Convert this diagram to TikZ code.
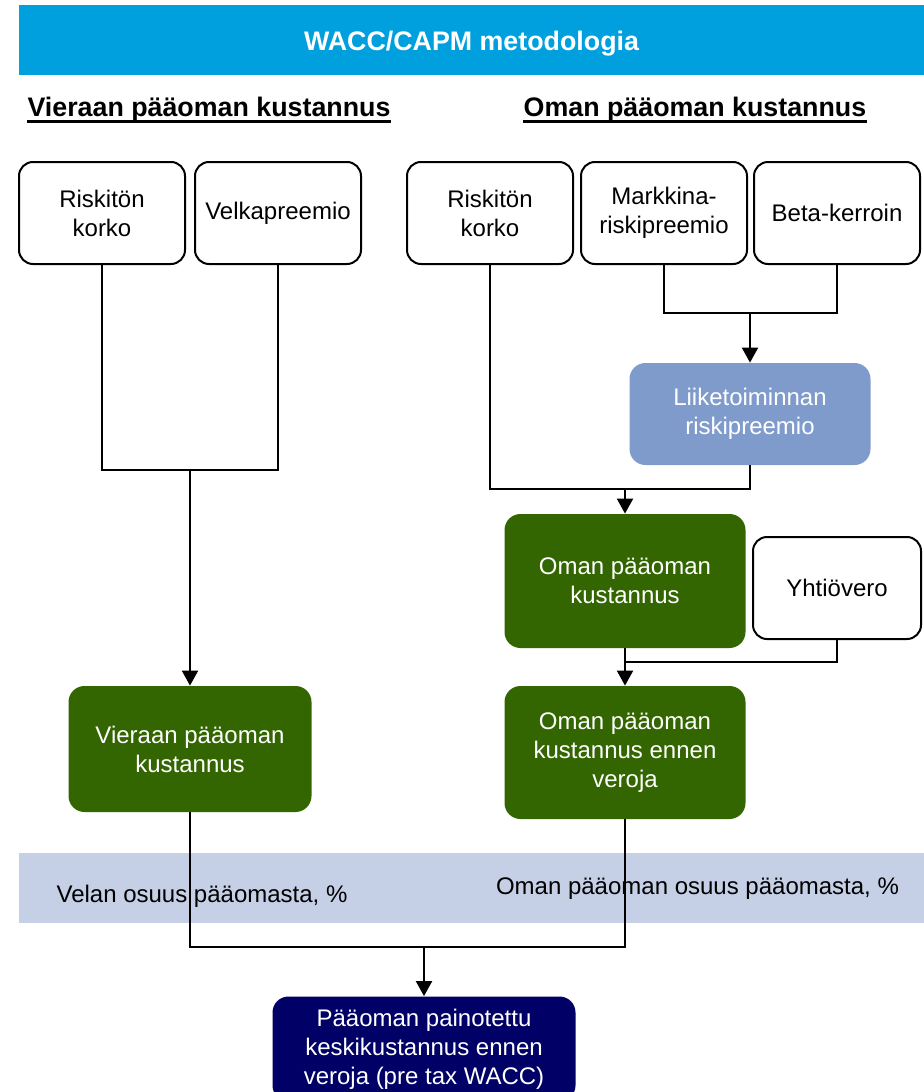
\documentclass[tikz,border=0pt]{standalone}
\usepackage{fontspec}
\setmainfont{Liberation Sans}
\usetikzlibrary{arrows.meta}
\definecolor{wacctop}{RGB}{0,160,223}
\definecolor{capmgreen}{RGB}{51,102,0}
\definecolor{riskblue}{RGB}{127,155,204}
\definecolor{shareband}{RGB}{197,208,230}
\definecolor{waccnavy}{RGB}{0,0,102}

\begin{document}
\begin{tikzpicture}[x=0.5pt,y=-0.5pt,
        every text node part/.style={align=center},
        font=\fontsize{12}{14.5}\selectfont,
        input/.style={draw,line width=1pt,rounded corners=7pt,minimum width=83pt,minimum height=51pt,inner sep=1pt},
        result/.style={fill=capmgreen,text=white,rounded corners=8pt,minimum width=120.5pt,inner sep=1pt},
        heading/.style={font=\fontsize{13.4}{16}\selectfont\bfseries,inner sep=0pt},
        link/.style={line width=1pt},
        arr/.style={link,-{Triangle[width=8pt,length=7.5pt]}}]
        \useasboundingbox (0,0) rectangle (924,1092);

        \node[fill=wacctop,text=white,heading,text height=10pt,text depth=0pt,minimum width=452.5pt,minimum height=35pt] (T) at (471.5,40) {WACC/CAPM metodologia};
        \node[heading] (H1) at (209,110) {Vieraan pääoman kustannus};
        \node[heading] (H2) at (695,110) {Oman pääoman kustannus};
        \draw[line width=1.5pt] ([yshift=0.5pt]H1.south west) -- ([yshift=0.5pt]H1.south east);
        \draw[line width=1.5pt] ([yshift=0.5pt]H2.south west) -- ([yshift=0.5pt]H2.south east);

        \node[input] (V1) at (102,213) {Riskitön\\korko};
        \node[input] (V2) at (278,213) {Velkapreemio};
        \node[input] (O1) at (490,213) {Riskitön\\korko};
        \node[input] (O2) at (664,213) {Markkina-\\riskipreemio};
        \node[input] (O3) at (837,213) {Beta-kerroin};
        \node[fill=riskblue,text=white,rounded corners=8pt,minimum width=120.5pt,minimum height=51pt] (O4) at (750,414) {Liiketoiminnan\\riskipreemio};
        \node[result,minimum height=67pt] (O5) at (625,581) {Oman pääoman\\kustannus};
        \node[input,minimum width=84pt] (Y) at (837,588) {Yhtiövero};
        \node[result,minimum height=66.5pt] (O6) at (625,752.5) {Oman pääoman\\kustannus ennen\\veroja};
        \node[result,minimum width=121.5pt,minimum height=63pt] (V3) at (190,749) {Vieraan pääoman\\kustannus};

        \node[fill=shareband,minimum width=452.5pt,minimum height=35pt,inner sep=0pt] (B) at (471.5,888) {};
        \node (S1) at (202,896) {Velan osuus pääomasta, \%};
        \node (S2) at (697.5,889) {Oman pääoman osuus pääomasta, \%};

        \node[fill=waccnavy,text=white,rounded corners=8pt,minimum width=151.5pt,minimum height=52.5pt] (W) at (424,1049) {Pääoman painotettu\\keskikustannus ennen\\veroja (pre tax WACC)};

        \coordinate (J1) at (190,470);
        \coordinate (J2) at (750,313);
        \coordinate (J3) at (625,489);
        \coordinate (J4) at (625,662);
        \coordinate (J5) at (424,947);

        \draw[link] (V1.south)
        |- (J1)
        -| (V2.south);
        \draw[arr] (J1) -- (V3);
        \draw[link] (O2.south)
        |- (J2)
        -| (O3.south);
        \draw[arr] (J2) -- (O4);
        \draw[link] (O1.south)
        |- (J3)
        -| (O4.south);
        \draw[arr] (J3) -- (O5);
        \draw[link] (Y.south) |- (J4);
        \draw[arr] (O5) -- (O6);
        \draw[link] (V3.south)
        |- (J5)
        -| (O6.south);
        \draw[arr] (J5) -- (W);
    \end{tikzpicture}
\end{document}
